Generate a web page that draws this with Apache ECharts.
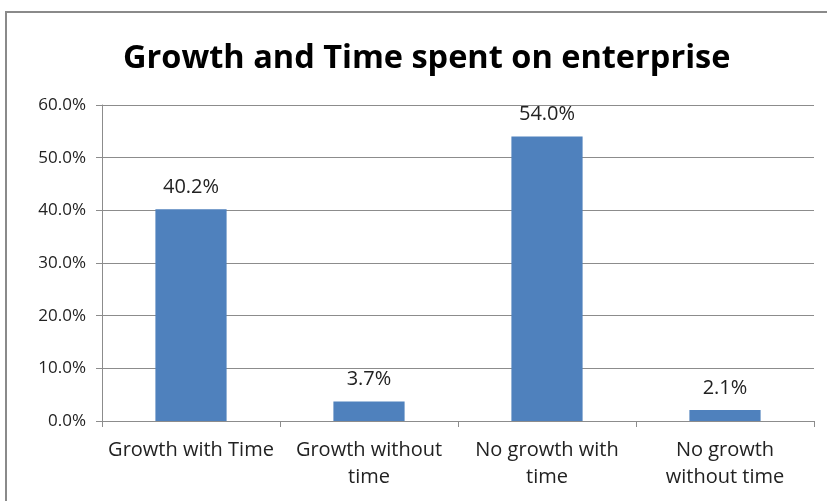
<!DOCTYPE html>
<html>
<head>
<meta charset="utf-8">
<script src="https://cdn.jsdelivr.net/npm/echarts@6/dist/echarts.min.js"></script>
<style>
  html, body { margin: 0; padding: 0; background: #fff; }
  #chart { width: 827px; height: 501px; }
</style>
</head>
<body>
<div id="chart"></div>
<script>
// Share of enterprises by growth and time spent (percent)
const categories = ['Growth with Time', 'Growth without\ntime', 'No growth with\ntime', 'No growth\nwithout time'];
const shares = [40.2, 3.7, 54.0, 2.1];
const yTicks = { min: 0, max: 60, interval: 10 };

const chart = echarts.init(document.getElementById('chart'), null, { renderer: 'canvas' });
const font = '"Open Sans", "Noto Sans", sans-serif';

chart.setOption({
  backgroundColor: '#fff',
  animation: false,
  title: {
    text: 'Growth and Time spent on enterprise',
    left: 118,
    top: 37,
    textStyle: { fontFamily: font, fontWeight: 'bold', fontSize: 32.5, color: '#000' }
  },
  graphic: [{
    type: 'rect',
    shape: { x: 6, y: 12, width: 900, height: 600 },
    style: { fill: 'none', stroke: '#8a8a8a', lineWidth: 2 },
    silent: true
  }],
  grid: { left: 102, right: 13, top: 105, bottom: 80, containLabel: false },
  xAxis: {
    type: 'category',
    data: categories,
    axisLine: { lineStyle: { color: '#8c8c8c', width: 1 } },
    axisTick: { show: true, length: 6, lineStyle: { color: '#8c8c8c' } },
    axisLabel: {
      interval: 0, margin: 16, color: '#222',
      fontFamily: font, fontSize: 20, lineHeight: 27
    }
  },
  yAxis: {
    type: 'value',
    min: yTicks.min, max: yTicks.max, interval: yTicks.interval,
    axisLine: { show: true, lineStyle: { color: '#8c8c8c' } },
    axisTick: { show: true, length: 6, lineStyle: { color: '#8c8c8c' } },
    splitLine: { lineStyle: { color: '#8c8c8c', width: 1 } },
    axisLabel: {
      margin: 16, color: '#222', fontFamily: font, fontSize: 17,
      formatter: v => v.toFixed(1) + '%'
    }
  },
  series: [{
    type: 'bar',
    data: shares,
    barWidth: '40%',
    itemStyle: { color: '#4F81BD' },
    label: {
      show: true, position: 'top', distance: 12,
      color: '#222', fontFamily: font, fontSize: 20,
      formatter: p => p.value.toFixed(1) + '%'
    }
  }]
});
</script>
</body>
</html>
